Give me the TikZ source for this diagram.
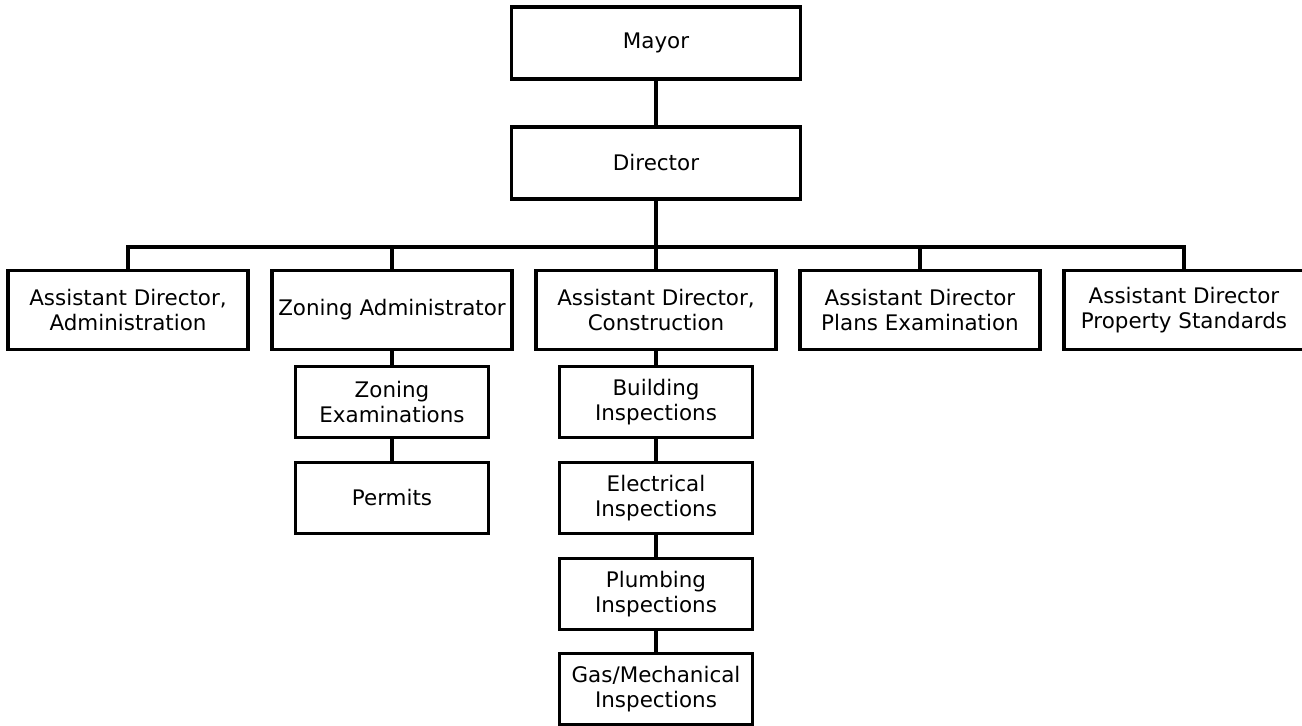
\documentclass[tikz,border=0pt]{standalone}
\usepackage{fontspec}
\setmainfont{DejaVu Sans}
\usetikzlibrary{positioning}

\tikzset{
  box/.style={draw, line width=2pt, fill=white, align=center, inner sep=2pt,
    font=\fontsize{12.2}{14.2}\selectfont},
  topbox/.style={box, minimum width=5.78cm, minimum height=1.44cm},
  headbox/.style={box, minimum width=4.8cm, minimum height=1.58cm},
  unitbox/.style={box, minimum width=3.86cm, minimum height=1.42cm},
  link/.style={line width=2pt, line cap=rect}
}

\begin{document}
\begin{tikzpicture}[x=0.02cm, y=-0.02cm]
    \useasboundingbox (0,0) rectangle (1302,726);

    % top of the chart
    \node[topbox] (mayor) at (656,43) {Mayor};
    \node[topbox] (director) at (656,163) {Director};
    \coordinate (bus) at (656,247);

    % second row
    \node[headbox] (adadmin) at (128,310) {Assistant Director,\\Administration};
    \node[headbox] (zoning) at (392,310) {Zoning Administrator};
    \node[headbox] (adconst) at (656,310) {Assistant Director,\\Construction};
    \node[headbox] (adplans) at (920,310) {Assistant Director\\Plans Examination};
    \node[headbox] (adprop) at (1184,310) {Assistant Director\\Property Standards};

    % units under zoning
    \node[unitbox] (zonexam) at (392,402) {Zoning\\Examinations};
    \node[unitbox] (permits) at (392,498) {Permits};

    % units under construction
    \node[unitbox] (bldg) at (656,402) {Building\\Inspections};
    \node[unitbox] (elec) at (656,498) {Electrical\\Inspections};
    \node[unitbox] (plumb) at (656,594) {Plumbing\\Inspections};
    \node[unitbox] (gasmech) at (656,689) {Gas/Mechanical\\Inspections};

    %connectors
    \draw[link] (mayor) -- (director);
    \draw[link] (director) -- (bus);
    \foreach \n in {adadmin,zoning,adconst,adplans,adprop} {
        \draw[link] (bus) -| (\n.north);
      }
    \draw[link] (zoning) -- (zonexam);
    \draw[link] (zonexam) -- (permits);
    \draw[link] (adconst) -- (bldg);
    \draw[link] (bldg) -- (elec);
    \draw[link] (elec) -- (plumb);
    \draw[link] (plumb) -- (gasmech);
  \end{tikzpicture}
\end{document}
